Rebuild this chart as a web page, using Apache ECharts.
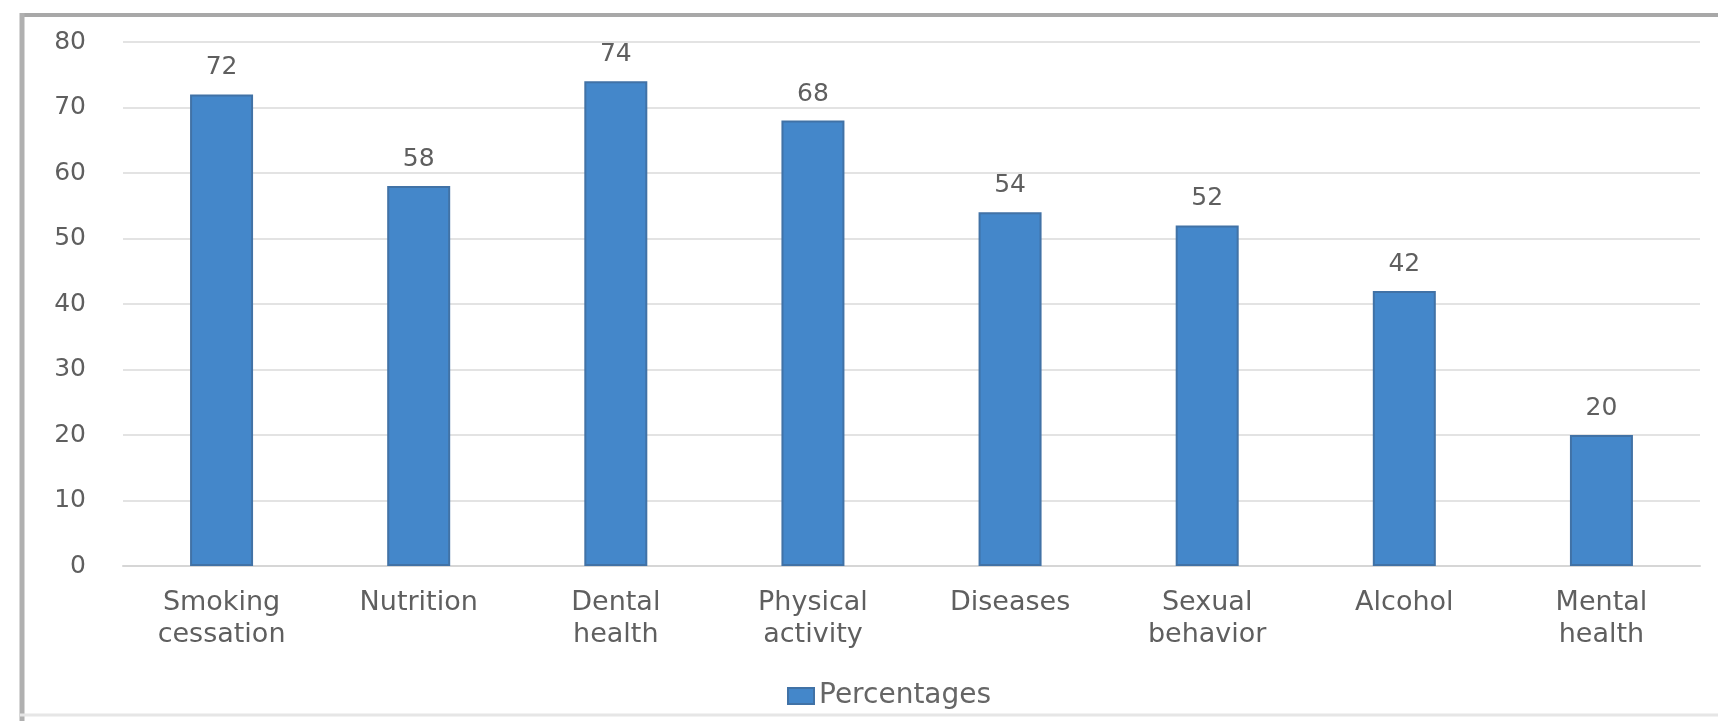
<!DOCTYPE html>
<html>
<head>
<meta charset="utf-8">
<script src="https://cdn.jsdelivr.net/npm/echarts@6/dist/echarts.min.js"></script>
<style>
html,body{margin:0;padding:0;background:#fff;}
#chart{width:1718px;height:721px;}
</style>
</head>
<body>
<div id="chart"></div>
<script>
const categories = ["Smoking\ncessation", "Nutrition", "Dental\nhealth", "Physical\nactivity", "Diseases", "Sexual\nbehavior", "Alcohol", "Mental\nhealth"];
const percentages = [72, 58, 74, 68, 54, 52, 42, 20];
const seriesName = "Percentages";

const chart = echarts.init(document.getElementById('chart'));
const font = '"DejaVu Sans", sans-serif';
const txt = '#5f5f5f';
chart.setOption({
  backgroundColor: '#ffffff',
  animation: false,
  graphic: [
    {type: 'line', shape: {x1: 20, y1: 15, x2: 1718, y2: 15}, style: {stroke: '#a8a8a8', lineWidth: 4}},
    {type: 'line', shape: {x1: 22, y1: 13, x2: 22, y2: 721}, style: {stroke: '#b0b0b0', lineWidth: 5}},
    {type: 'line', shape: {x1: 20, y1: 715, x2: 1718, y2: 715}, style: {stroke: '#e6e6e6', lineWidth: 3}}
  ],
  grid: {left: 123, right: 18, top: 42, bottom: 155},
  legend: {
    left: 782, top: 677,
    itemWidth: 26, itemHeight: 16, itemGap: 8,
    icon: 'rect',
    textStyle: {fontFamily: font, fontSize: 28, color: '#666666'},
    data: [seriesName]
  },
  xAxis: {
    type: 'category',
    data: categories,
    axisLine: {lineStyle: {color: '#d6d6d6', width: 2}},
    axisTick: {show: false},
    axisLabel: {fontFamily: font, fontSize: 27, color: txt, margin: 21, lineHeight: 32, interval: 0}
  },
  yAxis: {
    type: 'value',
    min: 0, max: 80, interval: 10,
    axisLine: {show: false},
    axisTick: {show: false},
    axisLabel: {fontFamily: font, fontSize: 25, color: txt, margin: 37},
    splitLine: {lineStyle: {color: '#e3e3e3', width: 2}}
  },
  series: [{
    name: seriesName,
    type: 'bar',
    data: percentages,
    barWidth: 63,
    itemStyle: {color: '#4487ca', borderColor: '#4172a6', borderWidth: 2},
    label: {show: true, position: 'top', distance: 14, fontFamily: font, fontSize: 25, color: txt}
  }]
});
</script>
</body>
</html>
